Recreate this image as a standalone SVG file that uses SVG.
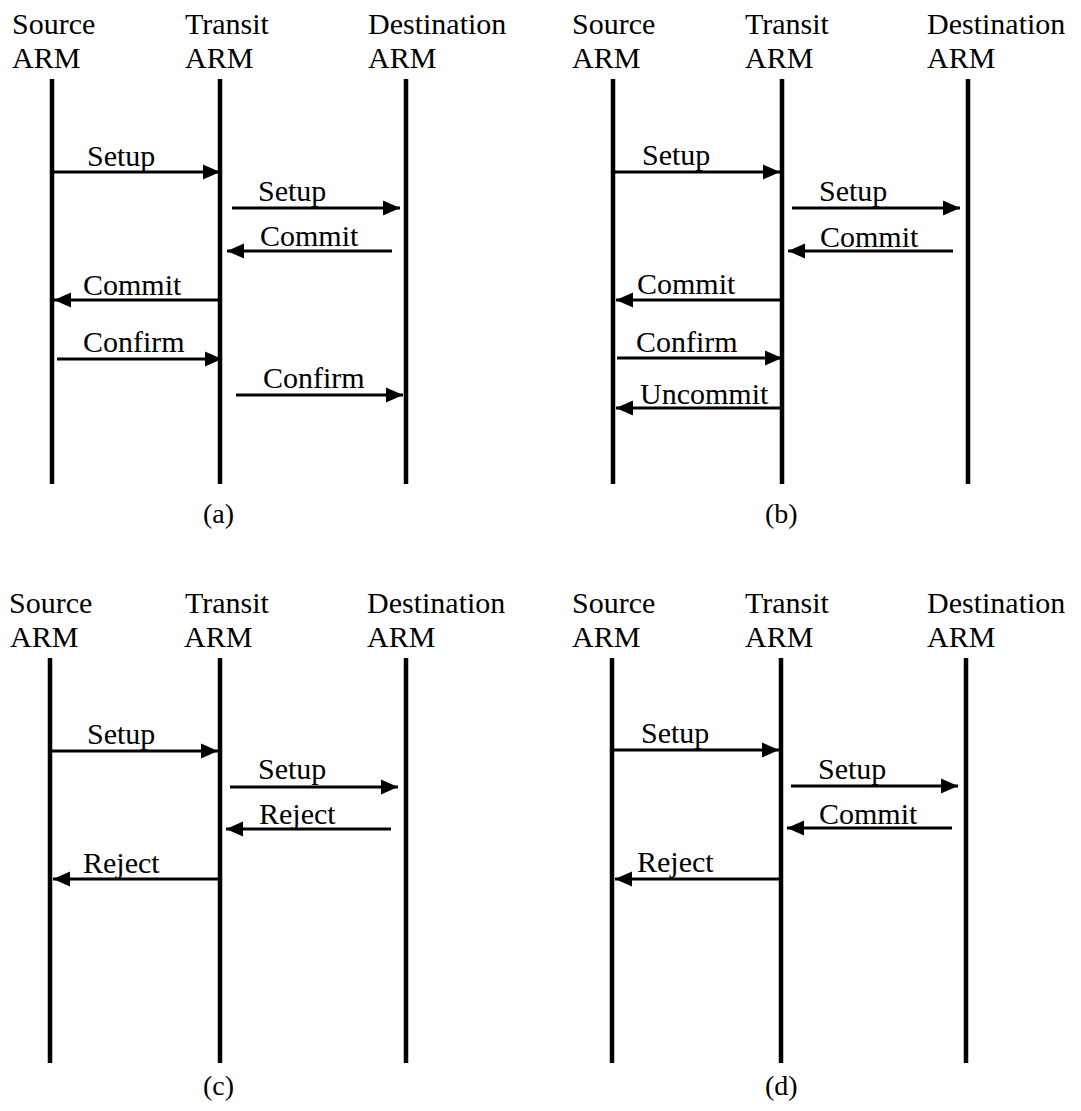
<svg xmlns="http://www.w3.org/2000/svg" width="1081" height="1111" viewBox="0 0 1081 1111" font-family="Liberation Serif, serif">
  <style>
    text { font-family: "Liberation Serif", serif; font-size: 30px; fill: #000; }
    .cap { font-size: 28px; }
    .life { stroke: #000; stroke-width: 4.5; }
    .msg { stroke: #000; stroke-width: 3; fill: none; marker-end: url(#head); }
  </style>
  <defs>
    <marker id="head" markerUnits="userSpaceOnUse" markerWidth="18" markerHeight="16" refX="17" refY="8" orient="auto">
      <path d="M0,0.5 L17,8 L0,15.5 z" fill="#000"/>
    </marker>
  </defs>
  <rect width="1081" height="1111" fill="#fff"/>

  <!-- Panel (a): successful setup and confirm -->
  <g id="panel-a">
    <g id="a-source"><text x="12" y="34">Source</text><text x="12" y="68">ARM</text><line class="life" x1="52" y1="79" x2="52" y2="484"/></g>
    <g id="a-transit"><text x="185" y="34">Transit</text><text x="185" y="68">ARM</text><line class="life" x1="220" y1="79" x2="220" y2="484"/></g>
    <g id="a-dest"><text x="368" y="34">Destination</text><text x="368" y="68">ARM</text><line class="life" x1="406" y1="79" x2="406" y2="484"/></g>
    <g id="a-connectors">
      <line class="msg" x1="52" y1="172" x2="220" y2="172"/>
      <text x="87" y="166">Setup</text>
      <line class="msg" x1="232" y1="208" x2="400" y2="208"/>
      <text x="258" y="201">Setup</text>
      <line class="msg" x1="392" y1="251" x2="227" y2="251"/>
      <text x="260" y="246">Commit</text>
      <line class="msg" x1="220" y1="300" x2="54" y2="300"/>
      <text x="83" y="295">Commit</text>
      <line class="msg" x1="57" y1="359" x2="222" y2="359"/>
      <text x="83" y="352">Confirm</text>
      <line class="msg" x1="236" y1="395" x2="403" y2="395"/>
      <text x="263" y="388">Confirm</text>
    </g>
    <text class="cap" x="203" y="523">(a)</text>
  </g>

  <!-- Panel (b): confirm followed by uncommit -->
  <g id="panel-b">
    <g id="b-source"><text x="572" y="34">Source</text><text x="572" y="68">ARM</text><line class="life" x1="613" y1="79" x2="613" y2="484"/></g>
    <g id="b-transit"><text x="745" y="34">Transit</text><text x="745" y="68">ARM</text><line class="life" x1="782" y1="79" x2="782" y2="484"/></g>
    <g id="b-dest"><text x="927" y="34">Destination</text><text x="927" y="68">ARM</text><line class="life" x1="968" y1="79" x2="968" y2="484"/></g>
    <g id="b-connectors">
      <line class="msg" x1="613" y1="172" x2="780" y2="172"/>
      <text x="642" y="165">Setup</text>
      <line class="msg" x1="792" y1="208" x2="960" y2="208"/>
      <text x="819" y="201">Setup</text>
      <line class="msg" x1="953" y1="251" x2="788" y2="251"/>
      <text x="820" y="247">Commit</text>
      <line class="msg" x1="782" y1="300" x2="616" y2="300"/>
      <text x="637" y="294">Commit</text>
      <line class="msg" x1="617" y1="358" x2="782" y2="358"/>
      <text x="636" y="352">Confirm</text>
      <line class="msg" x1="782" y1="408" x2="616" y2="408"/>
      <text x="640" y="404">Uncommit</text>
    </g>
    <text class="cap" x="765" y="523">(b)</text>
  </g>

  <!-- Panel (c): destination rejects -->
  <g id="panel-c">
    <g id="c-source"><text x="9" y="613">Source</text><text x="10" y="647">ARM</text><line class="life" x1="50" y1="658" x2="50" y2="1063"/></g>
    <g id="c-transit"><text x="185" y="613">Transit</text><text x="184" y="647">ARM</text><line class="life" x1="220" y1="658" x2="220" y2="1063"/></g>
    <g id="c-dest"><text x="367" y="613">Destination</text><text x="367" y="647">ARM</text><line class="life" x1="406" y1="658" x2="406" y2="1063"/></g>
    <g id="c-connectors">
      <line class="msg" x1="50" y1="751" x2="218" y2="751"/>
      <text x="87" y="744">Setup</text>
      <line class="msg" x1="230" y1="787" x2="398" y2="787"/>
      <text x="258" y="779">Setup</text>
      <line class="msg" x1="391" y1="829" x2="226" y2="829"/>
      <text x="259" y="824">Reject</text>
      <line class="msg" x1="220" y1="879" x2="53" y2="879"/>
      <text x="83" y="873">Reject</text>
    </g>
    <text class="cap" x="203" y="1095">(c)</text>
  </g>

  <!-- Panel (d): transit rejects after commit -->
  <g id="panel-d">
    <g id="d-source"><text x="572" y="613">Source</text><text x="572" y="647">ARM</text><line class="life" x1="612" y1="658" x2="612" y2="1063"/></g>
    <g id="d-transit"><text x="745" y="613">Transit</text><text x="745" y="647">ARM</text><line class="life" x1="781" y1="658" x2="781" y2="1063"/></g>
    <g id="d-dest"><text x="927" y="613">Destination</text><text x="927" y="647">ARM</text><line class="life" x1="966" y1="658" x2="966" y2="1063"/></g>
    <g id="d-connectors">
      <line class="msg" x1="612" y1="750" x2="779" y2="750"/>
      <text x="641" y="743">Setup</text>
      <line class="msg" x1="791" y1="786" x2="958" y2="786"/>
      <text x="818" y="779">Setup</text>
      <line class="msg" x1="952" y1="828" x2="787" y2="828"/>
      <text x="819" y="824">Commit</text>
      <line class="msg" x1="781" y1="879" x2="615" y2="879"/>
      <text x="637" y="872">Reject</text>
    </g>
    <text class="cap" x="765" y="1095">(d)</text>
  </g>
</svg>
